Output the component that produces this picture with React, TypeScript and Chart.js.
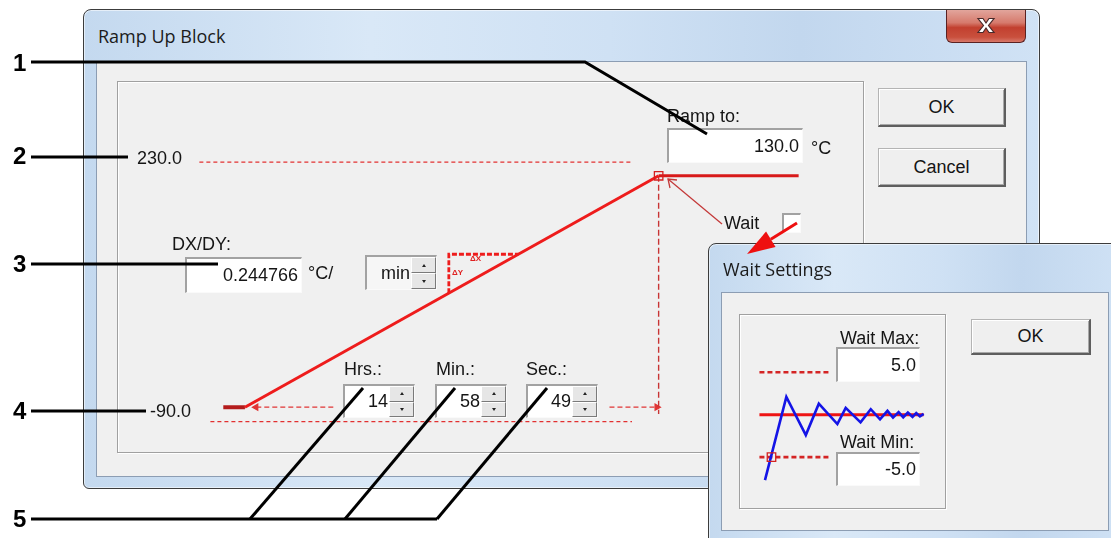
import React, { useEffect, useRef } from 'react';
import { Chart, registerables } from 'chart.js';

Chart.register(...registerables);

// ---------------- DATA ----------------
const startTempC = -90.0;
const targetTempC = 130.0;
const upperLimitLabel = '230.0';
const startLabel = '-90.0';
const targetLabel = '130.0';
const slopeLabel = '0.244766';
const slopeCPerMin = 0.244766;
const rampHrs = 14;
const rampMins = 58;
const rampSecs = 49;
const rampMinutes = rampHrs * 60 + rampMins + rampSecs / 60; // ≈ 898.8 min

// ramp schematic (time in minutes, temperature in °C)
const rampTimes = [0, rampMinutes];
const rampTemps = [startTempC, targetTempC];
const preHoldTimes = [-47, 0];
const postHoldTimes = [rampMinutes, 1203];
const upperGuideTimes = [-99, 841];
const upperGuideLevel = 143;
const lowerGuideTimes = [-75, 841];
const lowerGuideLevel = -103.7;
const markerBottomLevel = -96.4;
const leftArrowTimes = [192, 24];
const rightArrowTimes = [792, 895];
const slopeTriTimes = [443, 594];

// wait settings schematic (arbitrary time units, deviation in °C)
const waitMaxC = 5.0;
const waitMinC = -5.0;
const waitSetpoint = 0;
const waitGuideTimes = [0, 75];
const waitLineTimes = [0, 177];
const waitTimes = [6, 29, 50, 64, 84, 93, 109, 120, 130, 138, 144, 150, 155, 160, 165, 169, 173, 177];
const waitResponse = [-7.7, 2.1, -2.4, 1.3, -1.1, 0.8, -0.9, 0.65, -0.55, 0.45, -0.35, 0.3, -0.3, 0.25, -0.25, 0.2, -0.2, 0.1];
const waitMarkerTime = 13;

// ---------------- LAYOUT HELPERS ----------------
const UI = '"Liberation Sans", Arial, sans-serif';
const TITLE = '"Open Sans", "Noto Sans", sans-serif';

function rangeFor(p0: number, v0: number, p1: number, v1: number, pa: number, pb: number) {
  const k = (v1 - v0) / (p1 - p0);
  return [v0 + (pa - p0) * k, v0 + (pb - p0) * k];
}
const pts = (xs: number[], ys: number[]) => xs.map((x, i) => ({ x, y: ys[i] }));

const MAIN = { left: 119, top: 83, width: 743, height: 368 };
const WAIT = { left: 741, top: 316, width: 202, height: 190 };

function mainConfig(): any {
  const [xMin, xMax] = rangeFor(240, 0, 662, rampMinutes, MAIN.left, MAIN.left + MAIN.width);
  const [yMin, yMax] = rangeFor(413, startTempC, 172, targetTempC, MAIN.top + MAIN.height, MAIN.top);
  const tempAt = (t: number) => startTempC + slopeCPerMin * t;
  const base = { pointRadius: 0, fill: false, tension: 0 };
  return {
    type: 'line',
    data: {
      datasets: [
        { ...base, data: [{ x: rampMinutes, y: targetTempC }], showLine: false, pointStyle: 'rect', pointRadius: 6, pointBorderColor: '#d42020', pointBackgroundColor: 'rgba(0,0,0,0)', pointBorderWidth: 1.3 },
        { ...base, data: pts(rampTimes, rampTemps), borderColor: '#ee1c1c', borderWidth: 3 },
        { ...base, data: pts(preHoldTimes, [startTempC, startTempC]), borderColor: '#b41c1c', borderWidth: 4 },
        { ...base, data: pts(postHoldTimes, [targetTempC, targetTempC]), borderColor: '#d81a1a', borderWidth: 3 },
        { ...base, data: pts(upperGuideTimes, [upperGuideLevel, upperGuideLevel]), borderColor: '#e23030', borderWidth: 1.3, borderDash: [4, 3] },
        { ...base, data: pts(lowerGuideTimes, [lowerGuideLevel, lowerGuideLevel]), borderColor: '#e23030', borderWidth: 1.3, borderDash: [4, 3] },
        { ...base, data: pts([rampMinutes, rampMinutes], [targetTempC, markerBottomLevel]), borderColor: '#c83434', borderWidth: 1.4, borderDash: [6, 3] },
        { ...base, data: pts(leftArrowTimes, [startTempC, startTempC]), borderColor: '#e03434', borderWidth: 1.3, borderDash: [5, 3], pointRadius: [0, 3.5], pointStyle: 'triangle', pointRotation: -90, pointBackgroundColor: '#e03434', pointBorderColor: '#e03434' },
        { ...base, data: pts(rightArrowTimes, [startTempC, startTempC]), borderColor: '#e03434', borderWidth: 1.3, borderDash: [5, 3], pointRadius: [0, 3.5], pointStyle: 'triangle', pointRotation: 90, pointBackgroundColor: '#e03434', pointBorderColor: '#e03434' },
        { ...base, data: [
            { x: slopeTriTimes[0], y: tempAt(slopeTriTimes[0]) },
            { x: slopeTriTimes[0], y: tempAt(slopeTriTimes[1]) },
            { x: slopeTriTimes[1], y: tempAt(slopeTriTimes[1]) },
          ], borderColor: '#ee1c1c', borderWidth: 2.8, borderDash: [5, 2] },
      ],
    },
    options: {
      animation: false,
      responsive: false,
      maintainAspectRatio: false,
      events: [],
      layout: { padding: 0 },
      plugins: { legend: { display: false }, tooltip: { enabled: false } },
      scales: {
        x: { type: 'linear', display: false, min: xMin, max: xMax },
        y: { type: 'linear', display: false, min: yMin, max: yMax },
      },
    },
  };
}

function waitConfig(): any {
  const [xMin, xMax] = rangeFor(753, 0, 930, 177, WAIT.left, WAIT.left + WAIT.width);
  const [yMin, yMax] = rangeFor(415, waitSetpoint, 369, waitMaxC, WAIT.top + WAIT.height, WAIT.top);
  const base = { pointRadius: 0, fill: false, tension: 0 };
  return {
    type: 'line',
    data: {
      datasets: [
        { ...base, data: [{ x: waitMarkerTime, y: waitMinC }], showLine: false, pointStyle: 'rect', pointRadius: 6, pointBorderColor: '#d42020', pointBackgroundColor: 'rgba(0,0,0,0)', pointBorderWidth: 1.3 },
        { ...base, data: pts(waitTimes, waitResponse), borderColor: '#1414e6', borderWidth: 2.6 },
        { ...base, data: pts(waitLineTimes, [waitSetpoint, waitSetpoint]), borderColor: '#ee1414', borderWidth: 3 },
        { ...base, data: pts(waitGuideTimes, [waitMaxC, waitMaxC]), borderColor: '#d42424', borderWidth: 2.6, borderDash: [5, 3] },
        { ...base, data: pts(waitGuideTimes, [waitMinC, waitMinC]), borderColor: '#d42424', borderWidth: 2.6, borderDash: [5, 3] },
      ],
    },
    options: {
      animation: false,
      responsive: false,
      maintainAspectRatio: false,
      events: [],
      layout: { padding: 0 },
      plugins: { legend: { display: false }, tooltip: { enabled: false } },
      scales: {
        x: { type: 'linear', display: false, min: xMin, max: xMax },
        y: { type: 'linear', display: false, min: yMin, max: yMax },
      },
    },
  };
}

function ChartBox({ box, make }: { box: any; make: () => any }) {
  const ref = useRef<HTMLCanvasElement>(null);
  useEffect(() => {
    const chart = new Chart(ref.current as HTMLCanvasElement, make());
    return () => chart.destroy();
  }, []);
  return (
    <canvas
      ref={ref}
      width={box.width}
      height={box.height}
      style={{ position: 'absolute', left: box.left, top: box.top, width: box.width, height: box.height }}
    />
  );
}

// ---------------- UI PIECES ----------------
function Txt({ x, y, children, size = 18, color = '#151515', font = UI, bold = false }: any) {
  const h = Math.round(size * 1.4);
  return (
    <div style={{ position: 'absolute', left: x, top: y - h / 2, height: h, lineHeight: h + 'px', fontSize: size, fontFamily: font, color, whiteSpace: 'nowrap', fontWeight: bold ? 700 : 400 }}>
      {children}
    </div>
  );
}

function Sunken({ x, y, w, h, bg = '#ffffff', children }: any) {
  return (
    <div style={{ position: 'absolute', left: x, top: y, width: w, height: h, boxSizing: 'border-box', background: bg,
      borderTop: '2px solid #a2a2a2', borderLeft: '2px solid #a2a2a2', borderRight: '1px solid #fafafa', borderBottom: '1px solid #fafafa' }}>
      {children}
    </div>
  );
}

function Edit({ x, y, w, h, text }: any) {
  return (
    <Sunken x={x} y={y} w={w} h={h}>
      <div style={{ position: 'absolute', right: 3, top: 0, bottom: 0, display: 'flex', alignItems: 'center', fontFamily: UI, fontSize: 18, color: '#151515' }}>{text}</div>
    </Sunken>
  );
}

function Tri({ up }: { up: boolean }) {
  return (
    <div style={{ width: 0, height: 0, borderLeft: '2.5px solid transparent', borderRight: '2.5px solid transparent',
      ...(up ? { borderBottom: '3px solid #222' } : { borderTop: '3px solid #222' }) }} />
  );
}

function Spin({ x, y, w, h, text, bg = '#ffffff' }: any) {
  const sw = 25;
  const half = (h - 3) / 2;
  const btn = (up: boolean) => (
    <div style={{ height: half, boxSizing: 'border-box', background: '#e6e6e6', borderTop: '1px solid #fff', borderLeft: '1px solid #fff',
      borderRight: '1px solid #7a7a7a', borderBottom: '1px solid #7a7a7a', display: 'flex', alignItems: 'center', justifyContent: 'center' }}>
      <Tri up={up} />
    </div>
  );
  return (
    <Sunken x={x} y={y} w={w} h={h} bg={bg}>
      <div style={{ position: 'absolute', right: sw + 1, top: 0, bottom: 0, display: 'flex', alignItems: 'center', fontFamily: UI, fontSize: 18, color: '#151515' }}>{text}</div>
      <div style={{ position: 'absolute', right: 0, top: 0, width: sw, height: h - 3 }}>
        {btn(true)}
        {btn(false)}
      </div>
    </Sunken>
  );
}

function Btn({ x, y, w, h, text }: any) {
  return (
    <div style={{ position: 'absolute', left: x, top: y, width: w, height: h, boxSizing: 'border-box', background: '#efefef',
      borderTop: '1px solid #b4b4b4', borderLeft: '1px solid #b4b4b4', borderRight: '2px solid #5e5e5e', borderBottom: '2px solid #5e5e5e',
      boxShadow: 'inset 1px 1px 0 #ffffff, inset -1px -1px 0 #a8a8a8',
      display: 'flex', alignItems: 'center', justifyContent: 'center', fontFamily: UI, fontSize: 18, color: '#151515' }}>
      {text}
    </div>
  );
}

function Group({ x, y, w, h }: any) {
  return (
    <div style={{ position: 'absolute', left: x, top: y, width: w, height: h, boxSizing: 'border-box', border: '1px solid #a0a0a0',
      boxShadow: 'inset 1px 1px 0 #ffffff, 1px 1px 0 #ffffff' }} />
  );
}

function Frame({ x, y, w, h, client }: any) {
  return (
    <>
      <div style={{ position: 'absolute', left: x, top: y, width: w, height: h, boxSizing: 'border-box', border: '1px solid #3c3c3c',
        borderRadius: '8px 8px 6px 6px',
        background: 'linear-gradient(90deg, #c4d9ef 0%, #d9e8f7 30%, #cfe1f4 55%, #c2d7ee 75%, #d0e2f5 100%)',
        boxShadow: 'inset 0 0 0 1px rgba(255,255,255,0.55)' }} />
      <div style={{ position: 'absolute', left: client.x, top: client.y, width: client.w, height: client.h, boxSizing: 'border-box',
        background: '#f0f0f0', border: '1px solid #8c9db3' }} />
    </>
  );
}

function CloseBtn({ x, y, w, h }: any) {
  return (
    <div style={{ position: 'absolute', left: x, top: y, width: w, height: h, boxSizing: 'border-box', border: '1px solid #5a2222',
      borderTop: 'none', borderRadius: '0 0 6px 6px',
      background: 'linear-gradient(180deg, #e2a59c 0%, #d67a6c 40%, #c2402f 55%, #c9503d 85%, #d8786a 100%)' }}>
      <svg width={w} height={h} style={{ position: 'absolute', left: 0, top: 0 }}>
        <g transform={`translate(${w / 2 - 1},${h / 2 - 1})`}>
          <path d="M-8,-7 L-3,-7 L0,-2.5 L3,-7 L8,-7 L2.5,0 L8,7 L3,7 L0,2.5 L-3,7 L-8,7 L-2.5,0 Z" fill="#ffffff" stroke="#4a2a2a" strokeWidth={1.2} />
        </g>
      </svg>
    </div>
  );
}

function Overlay() {
  const k = { stroke: '#000', strokeWidth: 3, fill: 'none', strokeLinecap: 'butt' as const };
  // red arrow
  const tip = [747, 254];
  const start = [797, 223];
  const dx = start[0] - tip[0], dy = start[1] - tip[1];
  const L = Math.hypot(dx, dy);
  const ux = dx / L, uy = dy / L;
  const bc = [tip[0] + ux * 28, tip[1] + uy * 28];
  const px = -uy * 9, py = ux * 9;
  return (
    <svg width={1111} height={538} style={{ position: 'absolute', left: 0, top: 0 }}>
      <polyline points="31,62 585,62 707,134" {...k} />
      <line x1={31} y1={157} x2={128} y2={157} {...k} />
      <line x1={31} y1={264} x2={218} y2={264} {...k} />
      <line x1={31} y1={411} x2={146} y2={411} {...k} />
      <line x1={31} y1={519} x2={437} y2={519} {...k} />
      <line x1={250} y1={519} x2={363} y2={388} {...k} />
      <line x1={345} y1={519} x2={455} y2={388} {...k} />
      <line x1={437} y1={519} x2={547} y2={388} {...k} />
      {/* wait pointer */}
      <line x1={722} y1={224} x2={668} y2={179} stroke="#c43a3a" strokeWidth={1.3} />
      <polyline points="670,188 668,179 677,180" stroke="#c43a3a" strokeWidth={1.3} fill="none" />
      {/* red arrow */}
      <line x1={start[0]} y1={start[1]} x2={bc[0]} y2={bc[1]} stroke="#ee1010" strokeWidth={3} />
      <polygon points={`${tip[0]},${tip[1]} ${bc[0] + px},${bc[1] + py} ${bc[0] - px},${bc[1] - py}`} fill="#ee1010" />
    </svg>
  );
}

export default function App() {
  return (
    <div style={{ position: 'absolute', left: 0, top: 0, width: 1111, height: 538, overflow: 'hidden', background: '#ffffff' }}>
      {/* Main dialog */}
      <Frame x={83} y={9} w={957} h={480} client={{ x: 96, y: 61, w: 931, h: 416 }} />
      <Txt x={98} y={36} font={TITLE} size={18} color="#1b1b1b">Ramp Up Block</Txt>
      <CloseBtn x={946} y={10} w={80} h={33} />
      <Group x={117} y={81} w={747} h={372} />
      <ChartBox box={MAIN} make={mainConfig} />
      <Txt x={667} y={116}>Ramp to:</Txt>
      <Edit x={667} y={128} w={136} h={35} text={targetLabel} />
      <Txt x={811} y={148}>°C</Txt>
      <Btn x={878} y={88} w={128} h={39} text="OK" />
      <Btn x={878} y={148} w={128} h={39} text="Cancel" />
      <Txt x={137} y={158}>{upperLimitLabel}</Txt>
      <Txt x={172} y={244}>DX/DY:</Txt>
      <Edit x={185} y={257} w={117} h={36} text={slopeLabel} />
      <Txt x={308} y={273}>°C/</Txt>
      <Spin x={365} y={255} w={72} h={35} text="min" bg="#f6f6f6" />
      <Txt x={470} y={258} size={8} color="#e02020" bold>ΔX</Txt>
      <Txt x={452} y={272} size={8} color="#e02020" bold>ΔY</Txt>
      <Txt x={724} y={223}>Wait</Txt>
      <Sunken x={782} y={213} w={19} h={20} />
      <Txt x={344} y={369}>Hrs.:</Txt>
      <Spin x={343} y={384} w={72} h={34} text={String(rampHrs)} />
      <Txt x={436} y={369}>Min.:</Txt>
      <Spin x={435} y={384} w={72} h={34} text={String(rampMins)} />
      <Txt x={526} y={369}>Sec.:</Txt>
      <Spin x={526} y={384} w={72} h={34} text={String(rampSecs)} />
      <Txt x={150} y={411}>{startLabel}</Txt>

      {/* Wait settings dialog */}
      <Frame x={708} y={243} w={420} h={320} client={{ x: 721, y: 292, w: 388, h: 239 }} />
      <Txt x={723} y={269} font={TITLE} size={18} color="#1b1b1b">Wait Settings</Txt>
      <Group x={739} y={314} w={207} h={195} />
      <ChartBox box={WAIT} make={waitConfig} />
      <Txt x={840} y={338}>Wait Max:</Txt>
      <Edit x={836} y={347} w={84} h={35} text={waitMaxC.toFixed(1)} />
      <Txt x={840} y={442}>Wait Min:</Txt>
      <Edit x={836} y={452} w={84} h={34} text={waitMinC.toFixed(1)} />
      <Btn x={971} y={319} w={120} h={36} text="OK" />

      <Overlay />

      {/* callout numbers */}
      <Txt x={13} y={63} size={24} bold color="#000">1</Txt>
      <Txt x={13} y={156} size={24} bold color="#000">2</Txt>
      <Txt x={13} y={264} size={24} bold color="#000">3</Txt>
      <Txt x={13} y={411} size={24} bold color="#000">4</Txt>
      <Txt x={13} y={519} size={24} bold color="#000">5</Txt>
    </div>
  );
}
